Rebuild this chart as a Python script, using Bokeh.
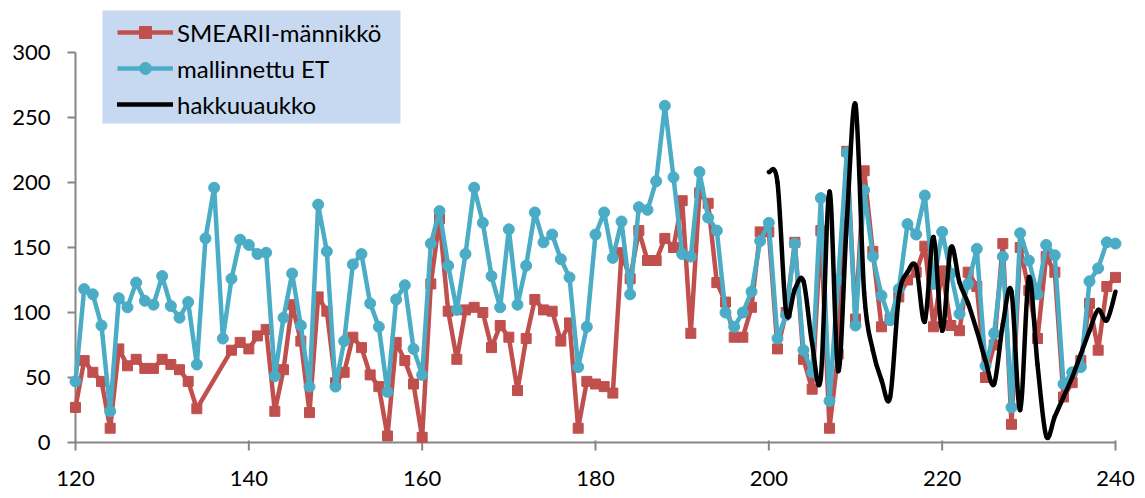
from bokeh.plotting import figure
from bokeh.models import Range1d, FixedTicker, Legend, LegendItem, ColumnDataSource, BoxAnnotation
from bokeh.embed import file_html
from bokeh.resources import INLINE

days = list(range(120, 241))

smear = [27, 63, 54, 47, 11, 72, 59, 64, 57, 57,
         64, 60, 56, 47, 26, None, None, None, 71, 77,
         72, 82, 87, 24, 56, 106, 78, 23, 112, 101,
         46, 54, 81, 73, 52, 43, 5, 77, 63, 45,
         4, 122, 172, 101, 64, 102, 104, 100, 73, 90,
         81, 40, 80, 110, 102, 101, 78, 92, 11, 47,
         45, 43, 38, 146, 126, 163, 140, 140, 157, 150,
         186, 84, 192, 184, 123, 108, 81, 81, 104, 162,
         162, 72, 100, 154, 64, 41, 163, 11, 68, 224,
         95, 209, 147, 89, 95, 112, 125, 131, 151, 89,
         132, 90, 86, 131, 120, 50, 75, 153, 14, 150,
         117, 80, 143, 131, 35, 46, 63, 107, 71, 120,
         127]

model_et = [47, 118, 114, 90, 24, 111, 104, 123, 109, 106,
            128, 105, 96, 108, 60, 157, 196, 80, 126, 156,
            152, 145, 146, 51, 96, 130, 90, 43, 183, 147,
            43, 78, 137, 145, 107, 89, 39, 110, 121, 72,
            52, 153, 178, 136, 102, 145, 196, 169, 128, 104,
            164, 106, 136, 177, 154, 160, 141, 127, 58, 89,
            160, 177, 142, 170, 114, 181, 179, 201, 259, 204,
            145, 143, 208, 173, 163, 100, 89, 100, 116, 155,
            169, 80, 98, 153, 71, 54, 188, 32, 125, 223,
            90, 194, 143, 113, 94, 118, 168, 160, 190, 122,
            162, 130, 99, 122, 149, 59, 84, 143, 27, 161,
            140, 114, 152, 144, 45, 54, 58, 124, 134, 154,
            153]

cut_days = list(range(200, 241))
clearcut = [208, 200, 100, 118, 124, 76, 50, 193, 55, 170,
            260, 115, 71, 48, 35, 112, 131, 135, 93, 158,
            86, 150, 123, 107, 86, 63, 45, 91, 116, 25,
            127, 60, 5, 20, 35, 50, 68, 86, 102, 94,
            116]

y_ticks = [0, 50, 100, 150, 200, 250, 300]
x_ticks = [120, 140, 160, 180, 200, 220, 240]

RED = "#C0504D"
BLUE = "#4BACC6"
AXIS = "#868686"
LEGEND_BG = "#C6D9F1"
FONT = "Lato"

PXD = 8.6667   # pixels per day
PXU = 1.3      # pixels per unit
X0, X1 = x_ticks[0], x_ticks[-1]
Y0, Y1 = y_ticks[0], y_ticks[-1]

p = figure(width=1145, height=498, output_backend="svg", toolbar_location=None,
           x_range=Range1d(X0 - 11 / PXD, X1 + 10 / PXD),
           y_range=Range1d(Y0 - 10 / PXU, Y0 + 434 / PXU),
           min_border_left=64, min_border_right=20, min_border_top=8, min_border_bottom=46)
p.outline_line_color = None
p.xgrid.visible = False
p.ygrid.visible = False

# axes: labels from Bokeh axes, axis lines / ticks drawn as segments at x=120 and y=0
for ax in (p.xaxis[0], p.yaxis[0]):
    ax.axis_line_color = None
    ax.major_tick_line_color = None
    ax.minor_tick_line_color = None
    ax.major_tick_out = 0
    ax.major_tick_in = 0
    ax.major_label_text_font = FONT
    ax.major_label_text_font_size = "22px"
    ax.major_label_text_color = "black"
p.xaxis[0].ticker = FixedTicker(ticks=x_ticks)
p.yaxis[0].ticker = FixedTicker(ticks=y_ticks)
p.xaxis[0].major_label_standoff = 18
p.yaxis[0].major_label_standoff = 14

seg = dict(x0=[X0, X0], y0=[Y0, Y0], x1=[X1, X0], y1=[Y0, Y1])
for t in x_ticks:
    seg["x0"].append(t); seg["x1"].append(t)
    seg["y0"].append(Y0 + 2 / PXU); seg["y1"].append(Y0 - 8 / PXU)
for t in y_ticks:
    seg["x0"].append(X0 - 8 / PXD); seg["x1"].append(X0)
    seg["y0"].append(t); seg["y1"].append(t)
p.segment("x0", "y0", "x1", "y1", source=ColumnDataSource(seg), line_color=AXIS, line_width=2)

# legend background box
p.add_layout(BoxAnnotation(left=X0 + 27 / PXD, right=X0 + 325 / PXD,
                           bottom=319 / PXU, top=432 / PXU,
                           fill_color=LEGEND_BG, fill_alpha=1, line_color=None))

sm_x = [d for d, v in zip(days, smear) if v is not None]
sm_y = [v for v in smear if v is not None]
src_sm = ColumnDataSource(dict(x=sm_x, y=sm_y))
src_et = ColumnDataSource(dict(x=days, y=model_et))

r_sm_line = p.line("x", "y", source=src_sm, line_color=RED, line_width=4.5, line_join="round")
r_sm_pts = p.scatter("x", "y", source=src_sm, marker="square", size=10, fill_color=RED, line_color=RED)
r_et_line = p.line("x", "y", source=src_et, line_color=BLUE, line_width=4.5, line_join="round")
r_et_pts = p.scatter("x", "y", source=src_et, marker="circle", size=11, fill_color=BLUE, line_color=BLUE)

# smoothed clear-cut line: Catmull-Rom through the daily values, as cubic Bezier segments
n = len(cut_days)
bz = dict(x0=[], y0=[], x1=[], y1=[], cx0=[], cy0=[], cx1=[], cy1=[])
for i in range(n - 1):
    im = max(i - 1, 0)
    ip = min(i + 2, n - 1)
    bz["x0"].append(cut_days[i]); bz["y0"].append(clearcut[i])
    bz["x1"].append(cut_days[i + 1]); bz["y1"].append(clearcut[i + 1])
    bz["cx0"].append(cut_days[i] + (cut_days[i + 1] - cut_days[im]) / 6)
    bz["cy0"].append(clearcut[i] + (clearcut[i + 1] - clearcut[im]) / 6)
    bz["cx1"].append(cut_days[i + 1] - (cut_days[ip] - cut_days[i]) / 6)
    bz["cy1"].append(clearcut[i + 1] - (clearcut[ip] - clearcut[i]) / 6)
r_cut = p.bezier("x0", "y0", "x1", "y1", "cx0", "cy0", "cx1", "cy1",
                 source=ColumnDataSource(bz), line_color="black", line_width=4.5, line_cap="round")

legend = Legend(items=[
    LegendItem(label="SMEARII-männikkö", renderers=[r_sm_line, r_sm_pts]),
    LegendItem(label="mallinnettu ET", renderers=[r_et_line, r_et_pts]),
    LegendItem(label="hakkuuaukko", renderers=[r_cut]),
], location=(53, 333))
legend.background_fill_alpha = 0
legend.border_line_color = None
legend.padding = 0
legend.spacing = 6
legend.margin = 0
legend.label_height = 30
legend.glyph_height = 30
legend.glyph_width = 56
legend.label_standoff = 4
legend.label_text_font = FONT
legend.label_text_font_size = "24px"
legend.label_text_color = "black"
p.add_layout(legend, "center")

open("out.html", "w").write(file_html(p, INLINE))
